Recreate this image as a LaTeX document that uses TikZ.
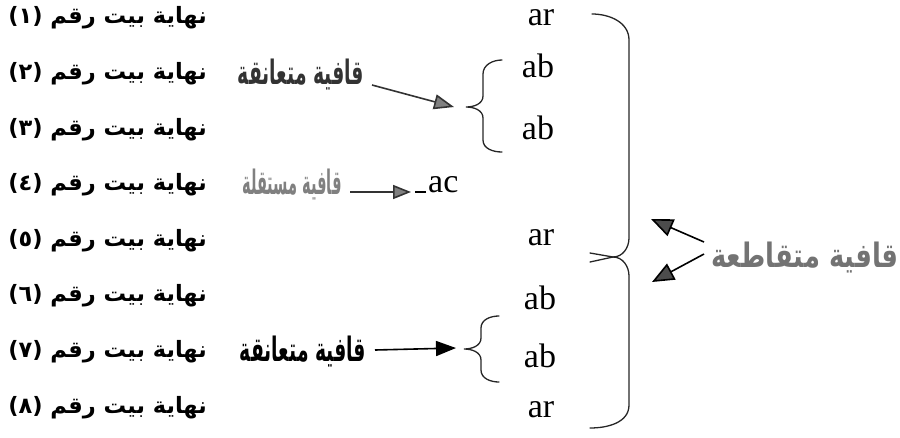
\documentclass[tikz,border=0pt]{standalone}
\usepackage{fontspec}
\setmainfont{Liberation Serif}
\newfontfamily\arabicfont[Script=Arabic]{DejaVu Sans}
\TeXXeTstate=1
\usetikzlibrary{arrows.meta}
\newcommand{\arabtext}[1]{\arabicfont\bfseries\beginR #1\endR}
\newcommand{\titletext}[2][0.67]{\scalebox{#1}[1.2]{\arabtext{#2}}}

\begin{document}
\begin{tikzpicture}[x=1pt,y=-1pt,
    verse/.style={font=\fontsize{22.5}{26}\selectfont, inner sep=0pt, anchor=east},
    title/.style={font=\fontsize{28}{32}\selectfont, inner sep=0pt},
    latin/.style={font=\fontsize{34}{36}\selectfont, inner sep=0pt},
    brace/.style={line width=1.3pt, black!85, line cap=round},
    flow/.style={line width=1.6pt, -{Triangle[length=20pt,width=15pt]}}]
  \useasboundingbox (0,0) rectangle (900,437);
  \foreach \d [count=\i] in {١,٢,٣,٤,٥,٦,٧,٨}
    \node[verse] (v\i) at (207,{18+55.6*(\i-1)}) {\arabtext{نهاية بيت رقم (\d)}};

  \node[latin] (ar1) at (541,18) {ar};
  \node[latin] (ab1) at (538,66) {ab};
  \node[latin] (ab2) at (538,128) {ab};
  \node[latin, anchor=base west] (ac) at (428,192) {ac};
  \node[latin] (ar2) at (541,238) {ar};
  \node[latin] (ab3) at (540,298) {ab};
  \node[latin] (ab4) at (540,356) {ab};
  \node[latin] (ar3) at (541,410) {ar};

  \node[title, black!80] (t1) at (301,75) {\titletext{قافية متعانقة}};
  \node[title, black!50] (t2) at (292,185) {\titletext[0.52]{قافية مستقلة}};
  \node[title] (t3) at (303,352) {\titletext{قافية متعانقة}};
  \node[title, black!55] (t4) at (805,258) {\titletext[0.92]{قافية متقاطعة}};

  \draw[brace] (502,60) to[out=180,in=90] (483,74) -- (483,96) to[out=-90,in=0] (466,107) coordinate (s1) to[out=0,in=90] (483,118) -- (483,140) to[out=-90,in=180] (502,152);
  \draw[brace] (499,316) to[out=180,in=90] (481,328) -- (481,338) to[out=-90,in=0] (464,349) coordinate (s2) to[out=0,in=90] (481,360) -- (481,370) to[out=-90,in=180] (499,382);
  \draw[brace] (592,14) to[out=0,in=90] (629,40) -- (629,238) to[out=-90,in=0] (613,257) -- (590,262);
  \draw[brace] (590,253) -- (613,257) to[out=0,in=90] (629,276) -- (629,405) to[out=-90,in=0] (590,428) coordinate (bb);
  \draw[line width=2pt] ([xshift=-2pt]ac.base west) -- ++(-11,0) coordinate (dash);

  \coordinate (a1) at (372,85);
  \coordinate (a2) at (350,192);
  \coordinate (a3) at (375,350);
  \coordinate (c1) at (704,242);
  \coordinate (c2) at (704,254);
  \draw[flow, black!80, -{Triangle[length=20pt,width=15pt,fill=black!50]}] (a1) -- ([xshift=-12pt]s1);
  \draw[flow, black!80, -{Triangle[length=18pt,width=14pt,fill=black!50]}] (a2) -- ([xshift=-4pt]dash);
  \draw[flow] (a3) -- ([xshift=-8pt,yshift=1pt]s2);
  \draw[flow, -{Triangle[length=22pt,width=18pt,fill=black!70]}] (c1) -- (651,219) coordinate (c1e);
  \draw[flow, -{Triangle[length=22pt,width=18pt,fill=black!70]}] (c2) -- (652,282) coordinate (c2e);
\end{tikzpicture}
\end{document}
